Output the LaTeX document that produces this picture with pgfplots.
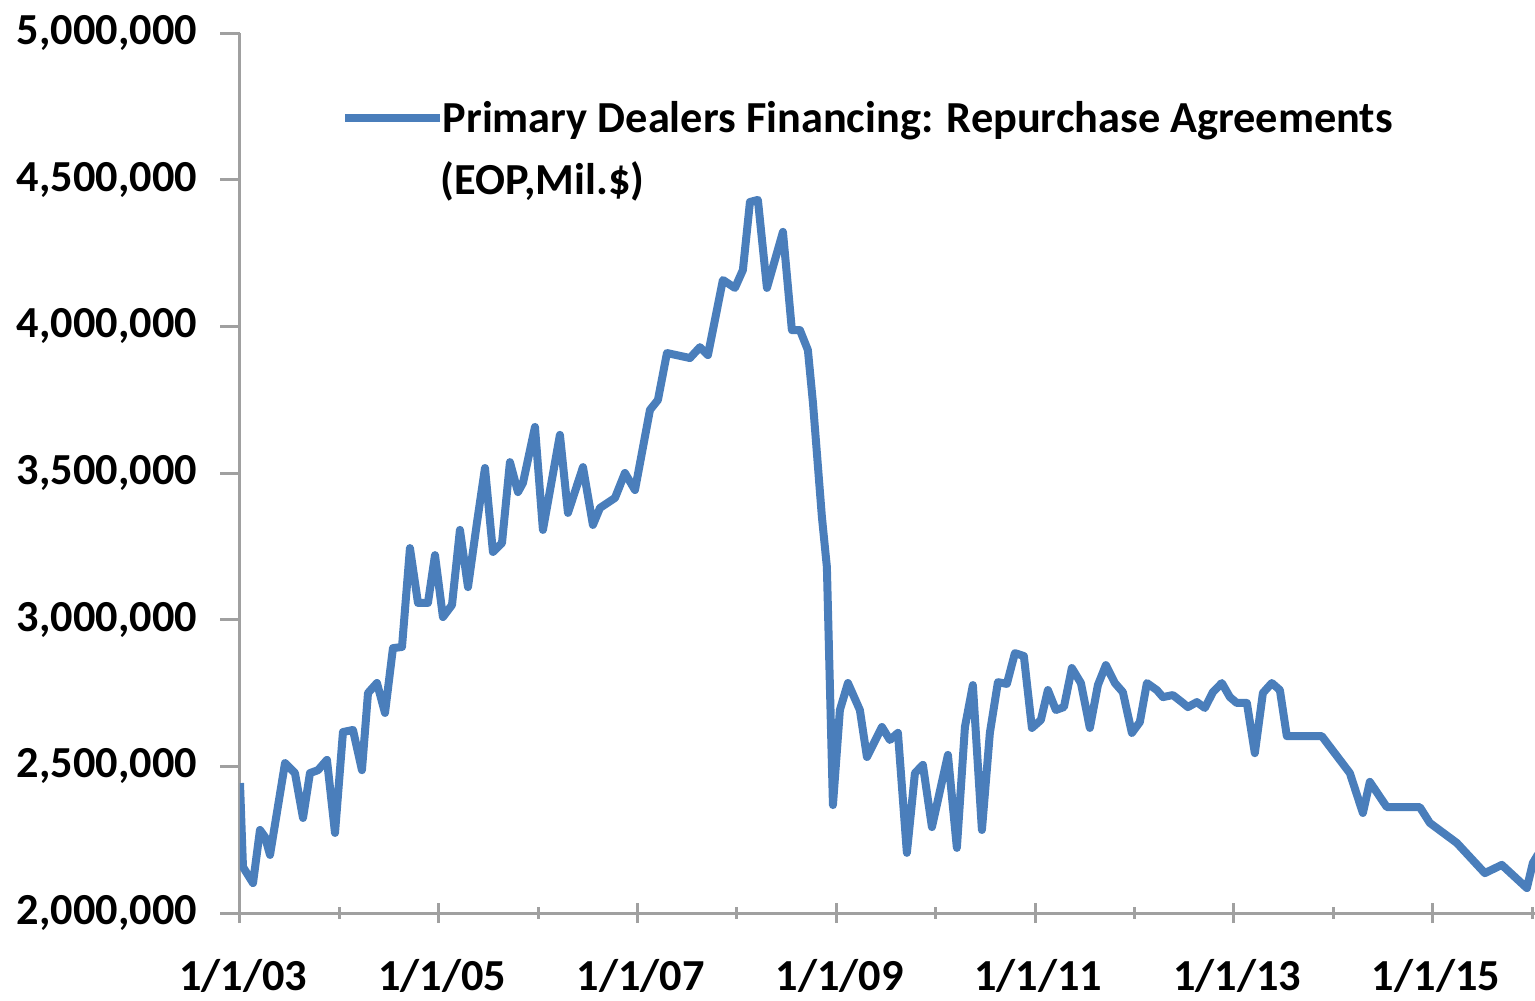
\documentclass[border=0pt]{standalone}
\usepackage{pgfplots}
\pgfplotsset{compat=1.18}
\usepackage{fontspec}
\setmainfont{Carlito}
\definecolor{lineblue}{HTML}{4A7EBB}
\definecolor{axgray}{HTML}{A0A0A0}
\begin{document}
\begin{tikzpicture}
\useasboundingbox (-72pt,-26.1pt) rectangle (388.5pt,273.9pt);
\begin{axis}[
  scale only axis,
  width=388.5pt, height=264pt,
  xmin=2003, xmax=2016.03,
  ymin=2000000, ymax=5000000,
  axis x line*=bottom, axis y line*=left,
  axis line style={draw=axgray, line width=0.9pt},
  every tick/.style={draw=axgray, line width=0.9pt},
  xtick={2003,2005,2007,2009,2011,2013,2015},
  xticklabels={1/1/03,1/1/05,1/1/07,1/1/09,1/1/11,1/1/13,1/1/15},
  minor xtick={2004,2006,2008,2010,2012,2014,2016},
  ytick={2000000,2500000,3000000,3500000,4000000,4500000,5000000},
  yticklabels={{2,000,000},{2,500,000},{3,000,000},{3,500,000},{4,000,000},{4,500,000},{5,000,000}},
  scaled y ticks=false,
  xtick align=center,
  ytick align=outside,
  major tick length=6pt,
  minor tick length=3.5pt,
  tick label style={font=\bfseries\fontsize{13.3}{14}\selectfont},
  yticklabel style={anchor=east, xshift=-3.4pt},
  xticklabel style={anchor=north, yshift=-7.4pt, xshift=1pt},
  clip=true,
]
\addplot[lineblue, line width=2.4pt, line join=round] coordinates {
(2003.000,2443000) (2003.030,2157000) (2003.131,2102000) (2003.201,2283000)
(2003.252,2259000) (2003.302,2198000) (2003.453,2511000) (2003.553,2477000)
(2003.634,2324000) (2003.704,2477000) (2003.785,2487000) (2003.875,2522000)
(2003.956,2273000) (2004.036,2617000) (2004.137,2624000) (2004.227,2487000)
(2004.288,2750000) (2004.378,2784000) (2004.459,2682000) (2004.539,2903000)
(2004.630,2907000) (2004.710,3244000) (2004.791,3057000) (2004.891,3057000)
(2004.962,3220000) (2005.042,3009000) (2005.133,3050000) (2005.213,3306000)
(2005.294,3111000) (2005.384,3330000) (2005.465,3517000) (2005.545,3231000)
(2005.636,3261000) (2005.716,3537000) (2005.797,3435000) (2005.847,3466000)
(2005.968,3657000) (2006.048,3306000) (2006.219,3630000) (2006.300,3364000)
(2006.451,3520000) (2006.551,3323000) (2006.622,3381000) (2006.773,3415000)
(2006.873,3500000) (2006.974,3442000) (2007.125,3715000) (2007.205,3749000)
(2007.296,3909000) (2007.527,3892000) (2007.628,3929000) (2007.708,3902000)
(2007.859,4158000) (2007.980,4131000) (2008.060,4192000) (2008.131,4424000)
(2008.211,4431000) (2008.302,4131000) (2008.362,4202000) (2008.463,4322000)
(2008.553,3987000) (2008.634,3987000) (2008.714,3919000) (2008.765,3739000)
(2008.855,3350000) (2008.905,3180000) (2008.966,2368000) (2009.036,2692000)
(2009.117,2784000) (2009.237,2692000) (2009.308,2532000) (2009.459,2634000)
(2009.539,2590000) (2009.620,2614000) (2009.710,2205000) (2009.791,2477000)
(2009.871,2505000) (2009.962,2293000) (2010.123,2539000) (2010.213,2222000)
(2010.294,2634000) (2010.374,2777000) (2010.465,2283000) (2010.545,2614000)
(2010.626,2787000) (2010.716,2781000) (2010.797,2886000) (2010.887,2876000)
(2010.968,2631000) (2011.058,2658000) (2011.129,2760000) (2011.209,2692000)
(2011.290,2702000) (2011.370,2835000) (2011.461,2784000) (2011.551,2631000)
(2011.632,2777000) (2011.712,2845000) (2011.803,2784000) (2011.883,2753000)
(2011.974,2614000) (2012.054,2651000) (2012.125,2784000) (2012.225,2760000)
(2012.286,2736000) (2012.386,2743000) (2012.477,2719000) (2012.537,2702000)
(2012.628,2719000) (2012.708,2699000) (2012.789,2753000) (2012.879,2784000)
(2012.960,2736000) (2013.030,2716000) (2013.131,2716000) (2013.211,2545000)
(2013.292,2750000) (2013.382,2784000) (2013.463,2760000) (2013.533,2603000)
(2013.885,2603000) (2014.167,2477000) (2014.298,2341000) (2014.368,2447000)
(2014.539,2361000) (2014.871,2361000) (2014.972,2307000) (2015.243,2239000)
(2015.525,2136000) (2015.696,2164000) (2015.948,2085000) (2016.008,2170000)
(2016.060,2200000)
};
\draw[lineblue, line width=2.4pt] (axis description cs:0.0811,0.9034) -- (axis description cs:0.1544,0.9034);
\node[anchor=base west, inner sep=0pt, font=\bfseries\fontsize{13.3}{14}\selectfont] at (axis description cs:0.1560,0.8875) {Primary Dealers Financing: Repurchase Agreements};
\node[anchor=base west, inner sep=0pt, font=\bfseries\fontsize{13.3}{14}\selectfont] at (axis description cs:0.1545,0.8170) {(EOP,Mil.\$)};
\end{axis}
\end{tikzpicture}
\end{document}
